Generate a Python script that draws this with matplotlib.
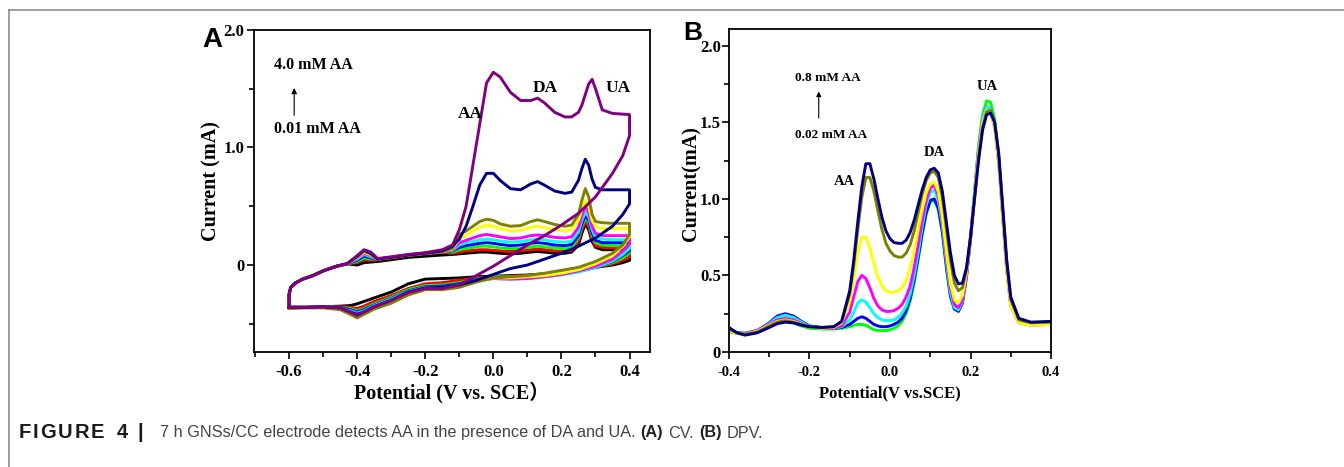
import numpy as np
import matplotlib.pyplot as plt
from matplotlib.ticker import MultipleLocator

plt.rcParams["axes.unicode_minus"] = False

# ---- panel A : CV, 10 concentrations ----
cv_colors = ["#000000", "#ff0000", "#00ff00", "#0000ff", "#00ffff",
             "#ff00ff", "#ffff00", "#808000", "#000080", "#800080"]

# common start of the anodic sweep (same for every curve)
cv_start_V = [-0.60, -0.60, -0.595, -0.58, -0.56, -0.53, -0.50, -0.46, -0.43]
cv_start_I = [-0.36, -0.25, -0.19, -0.15, -0.12, -0.09, -0.05, -0.01, 0.01]

# anodic sweep
cv_up_V = [-0.40, -0.38, -0.36, -0.34, -0.30, -0.25, -0.20, -0.15, -0.12, -0.10,
           -0.08, -0.06, -0.04, -0.02, 0.00, 0.02, 0.05, 0.08, 0.11, 0.13,
           0.15, 0.18, 0.21, 0.23, 0.25, 0.26, 0.27, 0.28, 0.29, 0.30,
           0.32, 0.35, 0.40]
cv_up = [
    [0.00, 0.02, 0.025, 0.03, 0.045, 0.065, 0.075, 0.085, 0.09, 0.095, 0.10, 0.105, 0.11, 0.11, 0.105, 0.10, 0.095, 0.10, 0.11, 0.115, 0.11, 0.10, 0.10, 0.11, 0.17, 0.27, 0.35, 0.30, 0.20, 0.15, 0.13, 0.13, 0.13],
    [0.02, 0.045, 0.04, 0.045, 0.06, 0.08, 0.095, 0.11, 0.10, 0.11, 0.12, 0.125, 0.13, 0.13, 0.125, 0.12, 0.115, 0.12, 0.13, 0.135, 0.13, 0.12, 0.115, 0.125, 0.20, 0.30, 0.37, 0.33, 0.22, 0.165, 0.15, 0.145, 0.145],
    [0.03, 0.06, 0.05, 0.05, 0.065, 0.085, 0.10, 0.115, 0.11, 0.13, 0.14, 0.15, 0.16, 0.16, 0.155, 0.145, 0.14, 0.14, 0.155, 0.16, 0.155, 0.145, 0.14, 0.15, 0.23, 0.33, 0.40, 0.36, 0.25, 0.19, 0.17, 0.165, 0.165],
    [0.04, 0.075, 0.06, 0.05, 0.065, 0.085, 0.10, 0.115, 0.12, 0.15, 0.165, 0.175, 0.185, 0.19, 0.185, 0.175, 0.165, 0.17, 0.185, 0.19, 0.185, 0.17, 0.165, 0.175, 0.25, 0.35, 0.42, 0.38, 0.27, 0.21, 0.19, 0.19, 0.19],
    [0.05, 0.09, 0.07, 0.05, 0.065, 0.085, 0.10, 0.115, 0.125, 0.17, 0.19, 0.20, 0.215, 0.22, 0.215, 0.205, 0.195, 0.20, 0.215, 0.22, 0.215, 0.20, 0.195, 0.205, 0.28, 0.38, 0.45, 0.41, 0.30, 0.235, 0.22, 0.215, 0.215],
    [0.06, 0.10, 0.08, 0.05, 0.065, 0.085, 0.10, 0.115, 0.13, 0.19, 0.21, 0.23, 0.25, 0.26, 0.25, 0.24, 0.225, 0.23, 0.25, 0.255, 0.25, 0.235, 0.23, 0.24, 0.32, 0.42, 0.50, 0.45, 0.33, 0.27, 0.25, 0.25, 0.25],
    [0.065, 0.11, 0.085, 0.05, 0.065, 0.085, 0.10, 0.115, 0.135, 0.22, 0.25, 0.29, 0.32, 0.34, 0.33, 0.31, 0.29, 0.295, 0.32, 0.33, 0.32, 0.30, 0.29, 0.30, 0.38, 0.47, 0.55, 0.50, 0.38, 0.33, 0.31, 0.31, 0.31],
    [0.07, 0.12, 0.09, 0.05, 0.065, 0.085, 0.10, 0.115, 0.14, 0.26, 0.29, 0.33, 0.37, 0.39, 0.38, 0.35, 0.33, 0.335, 0.37, 0.385, 0.37, 0.345, 0.33, 0.34, 0.43, 0.55, 0.65, 0.58, 0.43, 0.37, 0.36, 0.355, 0.355],
    [0.075, 0.125, 0.10, 0.05, 0.065, 0.085, 0.10, 0.12, 0.16, 0.22, 0.33, 0.50, 0.68, 0.78, 0.78, 0.72, 0.65, 0.64, 0.69, 0.71, 0.68, 0.63, 0.61, 0.62, 0.72, 0.82, 0.90, 0.85, 0.73, 0.66, 0.64, 0.64, 0.64],
    [0.08, 0.13, 0.11, 0.055, 0.07, 0.09, 0.105, 0.13, 0.17, 0.30, 0.50, 0.85, 1.20, 1.55, 1.64, 1.60, 1.47, 1.40, 1.40, 1.42, 1.38, 1.30, 1.26, 1.26, 1.30, 1.36, 1.45, 1.54, 1.58, 1.50, 1.32, 1.29, 1.28],
]

# cathodic sweep back to -0.6 V
cv_down_V = [0.40, 0.38, 0.35, 0.30, 0.25, 0.20, 0.15, 0.10, 0.05, 0.00, -0.05, -0.10,
             -0.15, -0.20, -0.25, -0.30, -0.35, -0.38, -0.40, -0.42, -0.45, -0.50, -0.55, -0.60]
cv_down = [
    [0.04, 0.02, 0.00, -0.02, -0.04, -0.06, -0.075, -0.085, -0.09, -0.095, -0.10, -0.11, -0.115, -0.12, -0.16, -0.23, -0.28, -0.31, -0.33, -0.345, -0.35, -0.355, -0.36, -0.36],
    [0.07, 0.04, 0.01, -0.02, -0.045, -0.065, -0.08, -0.09, -0.095, -0.10, -0.11, -0.13, -0.15, -0.16, -0.20, -0.26, -0.31, -0.35, -0.37, -0.36, -0.355, -0.355, -0.36, -0.36],
    [0.10, 0.06, 0.02, -0.02, -0.05, -0.07, -0.085, -0.095, -0.10, -0.10, -0.12, -0.15, -0.17, -0.175, -0.21, -0.275, -0.33, -0.37, -0.39, -0.37, -0.36, -0.355, -0.36, -0.36],
    [0.12, 0.08, 0.03, -0.02, -0.055, -0.075, -0.09, -0.10, -0.105, -0.105, -0.125, -0.16, -0.18, -0.185, -0.22, -0.285, -0.34, -0.38, -0.40, -0.38, -0.36, -0.355, -0.36, -0.36],
    [0.14, 0.09, 0.035, -0.02, -0.06, -0.085, -0.10, -0.115, -0.12, -0.115, -0.13, -0.17, -0.19, -0.19, -0.225, -0.29, -0.345, -0.39, -0.41, -0.39, -0.365, -0.355, -0.36, -0.36],
    [0.18, 0.12, 0.05, -0.01, -0.05, -0.08, -0.10, -0.115, -0.12, -0.115, -0.135, -0.175, -0.195, -0.195, -0.23, -0.30, -0.35, -0.40, -0.42, -0.40, -0.365, -0.355, -0.36, -0.36],
    [0.24, 0.16, 0.08, 0.01, -0.04, -0.07, -0.09, -0.10, -0.11, -0.11, -0.14, -0.18, -0.20, -0.20, -0.24, -0.31, -0.36, -0.41, -0.43, -0.41, -0.37, -0.36, -0.36, -0.365],
    [0.26, 0.17, 0.10, 0.03, -0.02, -0.045, -0.07, -0.09, -0.10, -0.11, -0.145, -0.19, -0.21, -0.21, -0.255, -0.325, -0.375, -0.42, -0.45, -0.42, -0.38, -0.365, -0.365, -0.37],
    [0.52, 0.43, 0.33, 0.23, 0.16, 0.10, 0.05, 0.00, -0.03, -0.08, -0.13, -0.17, -0.19, -0.195, -0.23, -0.30, -0.355, -0.40, -0.42, -0.40, -0.365, -0.355, -0.36, -0.36],
    [1.10, 0.93, 0.78, 0.58, 0.44, 0.34, 0.25, 0.17, 0.08, -0.01, -0.09, -0.17, -0.20, -0.20, -0.235, -0.30, -0.355, -0.40, -0.43, -0.40, -0.365, -0.355, -0.36, -0.36],
]

# ---- panel B : DPV, 7 concentrations ----
dpv_colors = ["#00ff00", "#0000ff", "#00ffff", "#ff00ff", "#ffff00", "#808000", "#000080"]
dpv_V = [-0.40, -0.38, -0.36, -0.33, -0.30, -0.28, -0.26, -0.24, -0.22, -0.20,
         -0.17, -0.14, -0.12, -0.10, -0.09, -0.08, -0.07, -0.06, -0.05, -0.04,
         -0.03, -0.02, -0.01, 0.00, 0.01, 0.02, 0.03, 0.04, 0.05, 0.06,
         0.07, 0.08, 0.09, 0.10, 0.11, 0.12, 0.13, 0.14, 0.15, 0.16,
         0.17, 0.18, 0.19, 0.20, 0.21, 0.22, 0.23, 0.24, 0.25, 0.26,
         0.27, 0.28, 0.29, 0.30, 0.32, 0.35, 0.40]
dpv = [
    [0.13, 0.125, 0.125, 0.14, 0.17, 0.19, 0.20, 0.19, 0.17, 0.155, 0.15, 0.15, 0.155, 0.165, 0.175, 0.18, 0.18, 0.175, 0.16, 0.145, 0.14, 0.14, 0.14, 0.145, 0.155, 0.17, 0.20, 0.25, 0.33, 0.45, 0.60, 0.76, 0.90, 0.98, 0.99, 0.93, 0.78, 0.55, 0.36, 0.28, 0.27, 0.33, 0.50, 0.75, 1.05, 1.35, 1.55, 1.64, 1.63, 1.52, 1.28, 0.92, 0.56, 0.32, 0.20, 0.185, 0.19],
    [0.15, 0.125, 0.12, 0.14, 0.19, 0.235, 0.25, 0.235, 0.20, 0.17, 0.16, 0.155, 0.16, 0.18, 0.20, 0.22, 0.23, 0.22, 0.20, 0.18, 0.17, 0.165, 0.165, 0.17, 0.18, 0.195, 0.22, 0.27, 0.35, 0.47, 0.62, 0.78, 0.91, 0.99, 1.00, 0.94, 0.79, 0.56, 0.37, 0.28, 0.265, 0.32, 0.49, 0.74, 1.03, 1.32, 1.52, 1.60, 1.59, 1.49, 1.26, 0.90, 0.55, 0.32, 0.20, 0.18, 0.185],
    [0.14, 0.12, 0.12, 0.14, 0.185, 0.225, 0.24, 0.225, 0.195, 0.165, 0.155, 0.155, 0.165, 0.21, 0.26, 0.32, 0.34, 0.325, 0.29, 0.25, 0.225, 0.21, 0.205, 0.205, 0.21, 0.225, 0.255, 0.30, 0.38, 0.50, 0.65, 0.82, 0.96, 1.04, 1.06, 0.99, 0.83, 0.59, 0.39, 0.29, 0.275, 0.33, 0.50, 0.75, 1.04, 1.33, 1.53, 1.60, 1.59, 1.49, 1.26, 0.90, 0.55, 0.32, 0.20, 0.18, 0.185],
    [0.14, 0.12, 0.12, 0.14, 0.18, 0.21, 0.22, 0.21, 0.185, 0.165, 0.155, 0.155, 0.17, 0.26, 0.36, 0.46, 0.50, 0.48, 0.42, 0.35, 0.30, 0.275, 0.265, 0.265, 0.27, 0.285, 0.31, 0.36, 0.43, 0.55, 0.70, 0.86, 0.99, 1.07, 1.09, 1.02, 0.86, 0.62, 0.42, 0.31, 0.29, 0.34, 0.50, 0.74, 1.02, 1.31, 1.51, 1.58, 1.57, 1.47, 1.24, 0.88, 0.53, 0.30, 0.19, 0.175, 0.18],
    [0.14, 0.12, 0.115, 0.135, 0.175, 0.20, 0.21, 0.20, 0.18, 0.165, 0.155, 0.16, 0.19, 0.33, 0.48, 0.65, 0.75, 0.75, 0.68, 0.58, 0.49, 0.43, 0.40, 0.39, 0.39, 0.40, 0.42, 0.47, 0.55, 0.66, 0.80, 0.93, 1.04, 1.10, 1.11, 1.05, 0.89, 0.66, 0.45, 0.34, 0.32, 0.37, 0.52, 0.75, 1.02, 1.30, 1.50, 1.58, 1.57, 1.47, 1.24, 0.88, 0.53, 0.30, 0.19, 0.175, 0.18],
    [0.15, 0.125, 0.115, 0.13, 0.17, 0.195, 0.205, 0.195, 0.18, 0.165, 0.16, 0.165, 0.20, 0.38, 0.57, 0.80, 1.01, 1.14, 1.14, 1.05, 0.92, 0.80, 0.71, 0.66, 0.63, 0.62, 0.62, 0.645, 0.70, 0.79, 0.91, 1.03, 1.12, 1.17, 1.18, 1.14, 1.01, 0.81, 0.60, 0.45, 0.40, 0.42, 0.54, 0.75, 1.00, 1.27, 1.47, 1.57, 1.58, 1.50, 1.29, 0.94, 0.58, 0.34, 0.21, 0.19, 0.195],
    [0.16, 0.125, 0.11, 0.125, 0.16, 0.185, 0.195, 0.19, 0.175, 0.165, 0.16, 0.165, 0.20, 0.40, 0.60, 0.85, 1.08, 1.23, 1.23, 1.13, 1.00, 0.88, 0.79, 0.74, 0.715, 0.71, 0.71, 0.73, 0.78, 0.86, 0.96, 1.06, 1.14, 1.19, 1.20, 1.17, 1.05, 0.85, 0.65, 0.50, 0.445, 0.45, 0.55, 0.75, 1.00, 1.25, 1.45, 1.55, 1.56, 1.50, 1.30, 0.95, 0.60, 0.36, 0.22, 0.195, 0.20],
]

caption = [("7 h GNSs/CC electrode detects AA in the presence of DA and UA.", "normal", "#444444"),
           ("(A)", "bold", "#222222"), ("CV.", "normal", "#444444"),
           ("(B)", "bold", "#222222"), ("DPV.", "normal", "#444444")]

serif = ["Liberation Serif", "Noto Sans CJK SC"]
lab_font = dict(family=serif, fontweight="bold")
annA = dict(family="Liberation Serif", fontweight="bold", fontsize=11.5)
peakA = dict(family="Liberation Serif", fontweight="bold", fontsize=12.5)
annB = dict(family="Liberation Serif", fontweight="bold", fontsize=9.5)
peakB = dict(family="Liberation Serif", fontweight="bold", fontsize=10.5)

fig = plt.figure(figsize=(13.44, 4.67), dpi=100)

# frame
fig.add_artist(plt.Line2D([0.0067, 1.0], [0.979, 0.979], color="#8c8c8c", lw=1.2))
fig.add_artist(plt.Line2D([0.0067, 0.0067], [0.0, 0.979], color="#8c8c8c", lw=1.2))

# caption: the bold label is set slightly wide, letter by letter
renderer = fig.canvas.get_renderer()
cy = 1 - 433 / 467
x = 19
for ch in "FIGURE 4":
    t = fig.text(x / 1344, cy, ch, fontsize=14.5, fontweight="bold",
                 family="Liberation Sans", color="#1a1a1a", va="center")
    x += t.get_window_extent(renderer).width + 1.8
    if ch == " ":
        x += 3
fig.text((x + 8) / 1344, cy, "|", fontsize=14.5, fontweight="bold",
         family="Liberation Sans", color="#1a1a1a", va="center")
x = 160
for txt, w, c in caption:
    t = fig.text(x / 1344, cy, txt, fontsize=11.7, fontweight=w,
                 family="Liberation Sans", color=c, va="center")
    x += t.get_window_extent(renderer).width + 5


def style(ax, xsize, ysize, xpad, ypad):
    for s in ax.spines.values():
        s.set_linewidth(1.3)
    ax.tick_params(which="both", direction="out", width=1.2)
    ax.tick_params(which="major", length=5)
    ax.tick_params(which="minor", length=3.5)
    ax.tick_params(axis="y", pad=ypad)
    ax.tick_params(axis="x", pad=xpad)
    for lab in ax.get_xticklabels():
        lab.set_fontproperties({"family": "Liberation Serif", "weight": "bold", "size": xsize})
    for lab in ax.get_yticklabels():
        lab.set_fontproperties({"family": "Liberation Serif", "weight": "bold", "size": ysize})


# ---- A ----
axA = fig.add_axes([0.189, 0.2463, 0.2946, 0.6895])
for k in range(len(cv_colors)):
    V = cv_start_V + cv_up_V + cv_down_V
    I = cv_start_I + cv_up[k] + cv_down[k]
    axA.plot(V, I, color=cv_colors[k], lw=2.1, solid_joinstyle="round")
axA.set_xlim(-0.703, 0.46)
axA.set_ylim(-0.74, 2.0)
axA.xaxis.set_major_locator(MultipleLocator(0.2))
axA.xaxis.set_minor_locator(MultipleLocator(0.1))
axA.set_yticks([0, 1.0, 2.0])
axA.set_yticklabels(["0", "1.0", "2.0"])
axA.yaxis.set_minor_locator(MultipleLocator(0.5))
style(axA, 12, 12, 3.5, 2)
axA.set_xlabel("Potential (V vs. SCE）", fontsize=14.5, labelpad=1, **lab_font)
axA.set_ylabel("Current (mA)", fontsize=14.5, **lab_font)
axA.yaxis.set_label_coords(-0.083, 0.53)
fig.text(202 / 1344, 1 - 27 / 467, "A", fontsize=20, fontweight="bold",
         family="Liberation Sans", va="top")
axA.text(-0.645, 1.67, "4.0 mM AA", **annA)
axA.text(-0.645, 1.12, "0.01 mM AA", **annA)
axA.annotate("", xy=(-0.585, 1.53), xytext=(-0.585, 1.25),
             arrowprops=dict(arrowstyle="-|>", color="black", lw=0.8, mutation_scale=8))
axA.text(-0.105, 1.25, "AA", **peakA)
axA.text(0.115, 1.47, "DA", **peakA)
axA.text(0.33, 1.47, "UA", **peakA)

# ---- B ----
axB = fig.add_axes([0.5424, 0.2463, 0.2396, 0.6916])
for k in range(len(dpv_colors)):
    axB.plot(dpv_V, dpv[k], color=dpv_colors[k], lw=2.1, solid_joinstyle="round")
axB.set_xlim(-0.4, 0.4)
axB.set_ylim(0, 2.11)
axB.xaxis.set_major_locator(MultipleLocator(0.2))
axB.xaxis.set_minor_locator(MultipleLocator(0.1))
axB.set_yticks([0, 0.5, 1.0, 1.5, 2.0])
axB.set_yticklabels(["0", "0.5", "1.0", "1.5", "2.0"])
axB.yaxis.set_minor_locator(MultipleLocator(0.25))
style(axB, 10.5, 12, 5, 0.8)
axB.set_xlabel("Potential(V vs.SCE)", fontsize=12, labelpad=5, **lab_font)
axB.set_ylabel("Current(mA)", fontsize=14.5, **lab_font)
axB.yaxis.set_label_coords(-0.084, 0.52)
fig.text(683 / 1344, 1 - 21 / 467, "B", fontsize=19, fontweight="bold",
         family="Liberation Sans", va="top")
axB.text(-0.235, 1.77, "0.8 mM AA", **annB)
axB.text(-0.235, 1.40, "0.02 mM AA", **annB)
axB.annotate("", xy=(-0.177, 1.72), xytext=(-0.177, 1.51),
             arrowprops=dict(arrowstyle="-|>", color="black", lw=0.8, mutation_scale=7))
axB.text(-0.14, 1.09, "AA", **peakB)
axB.text(0.085, 1.28, "DA", **peakB)
axB.text(0.214, 1.71, "UA", **peakB)

fig.savefig("out.png", dpi=100)
